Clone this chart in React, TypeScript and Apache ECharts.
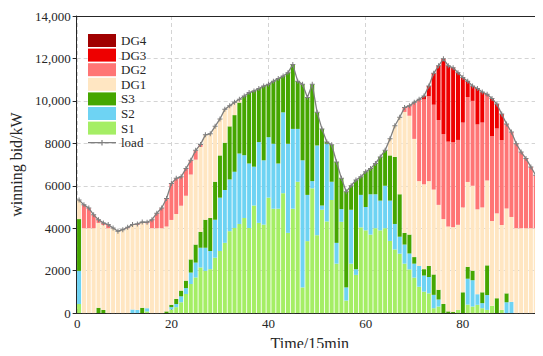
import React, { useEffect, useRef } from "react";
import * as echarts from "echarts";

const FONT = "'Liberation Serif', 'Times New Roman', serif";

const seriesNames = ["S1", "S2", "S3", "DG1", "DG2", "DG3", "DG4"];
const legendOrder = ["DG4", "DG3", "DG2", "DG1", "S3", "S2", "S1", "load"];

const slots = Array.from({ length: 96 }, (_, i) => String(i + 1));

const S1 = [
  430, 0, 0, 0, 0, 0, 0, 0, 0, 0,
  0, 0, 0, 0, 80, 0, 0, 0, 0, 170,
  280, 510, 900, 1370, 1680, 2150, 1990, 2070, 2610, 2925,
  3310, 3860, 4010, 4200, 4480, 4010, 5070, 4250, 4170, 5440,
  4920, 4920, 5650, 3780, 4920, 6190, 1210, 3390, 5880, 3670,
  4870, 4320, 5330, 2330, 4300, 590, 2330, 1800, 4040, 3900,
  3700, 4000, 3900, 4000, 3400, 3000, 2800, 2330, 2060, 1670,
  1240, 1010, 930, 230, 310, 0, 0, 0, 160, 0,
  400, 310, 390, 230, 150, 340, 0, 150, 0, 0,
  0, 0, 0, 0, 0, 0,
];

const S2 = [
  1560, 0, 0, 0, 0, 0, 0, 0, 0, 0,
  0, 170, 150, 0, 150, 0, 0, 0, 0, 110,
  150, 280, 280, 540, 700, 930, 1090, 855, 1790, 2515,
  2490, 2440, 2650, 3320, 2960, 3040, 1830, 3810, 3030, 2850,
  3060, 2130, 3810, 4200, 3760, 2490, 5990, 2180, 340, 4230,
  200, 3660, 860, 980, 600, 620, 2540, 270, 1530, 1100,
  1900, 1600, 1400, 2000, 1900, 1200, 800, 900, 750, 660,
  980, 760, 770, 630, 330, 0, 0, 0, 0, 0,
  1220, 1240, 500, 240, 700, 0, 0, 0, 510, 530,
  0, 0, 0, 0, 0, 0,
];

const S3 = [
  2440, 0, 0, 0, 250, 150, 0, 0, 0, 0,
  0, 0, 0, 250, 0, 0, 0, 0, 80, 110,
  240, 270, 350, 620, 850, 750, 1320, 1555, 1790, 1990,
  2230, 2500, 2670, 2400, 2790, 3340, 3570, 2520, 3500, 2490,
  2950, 4000, 1710, 3350, 3030, 2250, 3580, 4590, 4560, 1560,
  3610, 80, 1740, 3810, 1450, 4510, 1130, 4200, 850, 1660,
  1210, 1450, 2060, 1670, 2130, 3160, 2000, 550, 890, 310,
  0, 300, 520, 960, 460, 430, 80, 50, 0, 980,
  560, 450, 0, 510, 1400, 0, 700, 0, 420, 0,
  0, 0, 0, 0, 0, 0,
];

const DG1 = [
  900, 4000, 4000, 4000, 4000, 4000, 4000, 4000, 3860, 3930,
  4000, 4000, 4000, 4000, 4000, 4000, 4000, 4000, 4000, 4000,
  4000, 4000, 4000, 4000, 4000, 4000, 4000, 3970, 2610, 1720,
  1570, 970, 600, 160, 0, 0, 0, 0, 0, 0,
  0, 0, 0, 0, 0, 0, 0, 0, 0, 0,
  0, 0, 0, 0, 0, 0, 0, 0, 0, 0,
  0, 0, 0, 0, 780, 1470, 3630, 5700, 5600, 5570,
  4000, 4000, 4000, 4000, 4000, 4000, 4000, 4000, 4000, 4000,
  4000, 4000, 4000, 4000, 4000, 4000, 4000, 4000, 4000, 4000,
  4000, 4000, 4000, 4000, 4000, 4000,
];

const DG2 = [
  0, 1100, 950, 630, 150, 100, 170, 10, 0, 0,
  40, 0, 50, 40, 50, 400, 710, 950, 1320, 1720,
  1680, 1360, 1280, 670, 440, 120, 0, 0, 0, 0,
  0, 0, 0, 0, 0, 0, 0, 0, 0, 0,
  0, 0, 0, 0, 0, 0, 0, 0, 0, 0,
  0, 0, 0, 0, 0, 0, 0, 0, 0, 0,
  0, 0, 0, 0, 0, 0, 0, 210, 470, 1720,
  3860, 4000, 4000, 4000, 4000, 4000, 4000, 4000, 4000, 4000,
  4000, 4000, 4000, 4000, 4000, 4000, 4000, 4000, 3980, 4000,
  3980, 3590, 3280, 2890, 2500, 2300,
];

const DG3 = [
  0, 0, 0, 0, 0, 0, 0, 0, 0, 0,
  0, 0, 0, 0, 0, 0, 0, 0, 0, 0,
  0, 0, 0, 0, 0, 0, 0, 0, 0, 0,
  0, 0, 0, 0, 0, 0, 0, 0, 0, 0,
  0, 0, 0, 0, 0, 0, 0, 0, 0, 0,
  0, 0, 0, 0, 0, 0, 0, 0, 0, 0,
  0, 0, 0, 0, 0, 0, 0, 0, 0, 0,
  0, 160, 480, 1480, 2550, 3550, 3570, 3510, 3170, 2120,
  750, 700, 1690, 1440, 60, 1770, 1150, 1230, 0, 0,
  0, 0, 0, 0, 0, 0,
];

const DG4 = new Array(96).fill(0);

const load = [
  5330, 5100, 4950, 4630, 4400, 4250, 4170, 4010, 3860, 3930,
  4040, 4170, 4200, 4290, 4280, 4400, 4710, 4950, 5400, 6110,
  6350, 6420, 6810, 7200, 7670, 7950, 8400, 8450, 8800, 9150,
  9600, 9770, 9930, 10080, 10230, 10390, 10470, 10580, 10700, 10780,
  10930, 11050, 11170, 11330, 11710, 10930, 10780, 10160, 10780, 9460,
  8680, 8060, 7930, 7120, 6350, 5720, 6000, 6270, 6420, 6660,
  6810, 7050, 7360, 7670, 8210, 8830, 9230, 9690, 9770, 9930,
  10080, 10230, 10700, 11300, 11650, 11980, 11650, 11560, 11330, 11100,
  10930, 10700, 10580, 10420, 10310, 10110, 9850, 9380, 8910, 8530,
  7980, 7590, 7280, 6890, 6500, 6300,
];

const xTickValues = [0.6, 20, 40, 60, 80];
const xTickLabels = ["0", "20", "40", "60", "80"];

const colors: Record<string, string> = {
  S1: "#A5EE65",
  S2: "#6ED3F3",
  S3: "#45A600",
  DG1: "#FFE6C2",
  DG2: "#FF7575",
  DG3: "#EE0000",
  DG4: "#A00000",
};

const seriesData: Record<string, number[]> = { S1, S2, S3, DG1, DG2, DG3, DG4 };

function fmtY(v: number): string {
  if (v >= 10000) {
    const s = String(v);
    return s.slice(0, s.length - 3) + "," + s.slice(s.length - 3);
  }
  return String(v);
}

const AXIS_COLOR = "#262626";
const GRID_LINE = { show: true, lineStyle: { type: [4, 3], color: "#d4d4d4", width: 1 } };

export default function App() {
  const ref = useRef<HTMLDivElement>(null);
  useEffect(() => {
    if (!ref.current) return;
    const chart = echarts.init(ref.current, undefined, { renderer: "svg" });
    const barSeries = seriesNames.map((n) => ({
      name: n,
      type: "bar",
      stack: "total",
      barWidth: 4,
      xAxisIndex: 0,
      itemStyle: { color: colors[n] },
      data: seriesData[n],
      z: 2,
    }));
    const plusPath = "path://M4,0h2v10h-2z M0,4h10v2h-10z";
    const loadIcon = "path://M0,6h28v1.2h-28z M13.4,3.8h1.2v5.6h-1.2z";
    chart.setOption({
      animation: false,
      backgroundColor: "#ffffff",
      textStyle: { fontFamily: FONT },
      grid: {
        left: 69,
        right: -6,
        top: 16,
        bottom: 40,
      },
      legend: {
        orient: "vertical",
        left: 83,
        top: 29,
        itemWidth: 28,
        itemHeight: 13,
        itemGap: 1.6,
        textStyle: { fontFamily: FONT, fontSize: 13, color: AXIS_COLOR },
        data: legendOrder.map((n) =>
          n === "load" ? { name: n, icon: loadIcon } : { name: n, icon: "rect" }
        ),
      },
      xAxis: [
        {
          type: "category",
          data: slots,
          boundaryGap: true,
          show: false,
        },
        {
          type: "value",
          position: "bottom",
          min: 0.5,
          max: 96.5,
          name: "Time/15min",
          nameLocation: "middle",
          nameGap: 19,
          nameTextStyle: { fontFamily: FONT, fontSize: 16, color: AXIS_COLOR },
          axisLine: { show: true, lineStyle: { color: AXIS_COLOR, width: 1 } },
          axisTick: {
            show: true,
            inside: true,
            length: 4,
            customValues: xTickValues,
            lineStyle: { color: AXIS_COLOR },
          },
          axisLabel: {
            customValues: xTickValues,
            formatter: (v: number) => xTickLabels[xTickValues.indexOf(v)] ?? "",
            fontFamily: FONT,
            fontSize: 13,
            color: AXIS_COLOR,
            margin: 4,
          },
          splitLine: GRID_LINE,
        },
        {
          type: "value",
          position: "top",
          min: 0.5,
          max: 96.5,
          axisLine: { show: true, onZero: false, lineStyle: { color: AXIS_COLOR, width: 1 } },
          axisTick: { show: false },
          axisLabel: { show: false },
          splitLine: { show: false },
        },
      ],
      yAxis: {
        type: "value",
        min: 0,
        max: 14000,
        interval: 2000,
        name: "winning bid/kW",
        nameLocation: "middle",
        nameGap: 35,
        nameTextStyle: { fontFamily: FONT, fontSize: 16, color: AXIS_COLOR },
        axisLine: { show: true, lineStyle: { color: AXIS_COLOR, width: 1 } },
        axisTick: { show: true, inside: false, length: 4, lineStyle: { color: AXIS_COLOR } },
        axisLabel: {
          formatter: fmtY,
          fontFamily: FONT,
          fontSize: 13,
          color: AXIS_COLOR,
          margin: 6,
        },
        splitLine: GRID_LINE,
      },
      series: [
        ...barSeries,
        {
          name: "load",
          type: "line",
          xAxisIndex: 0,
          data: load,
          symbol: plusPath,
          symbolSize: 5,
          showAllSymbol: true,
          lineStyle: { color: "#7f7f7f", width: 1.3 },
          itemStyle: { color: "#7f7f7f" },
          z: 5,
        },
      ],
    });
    return () => chart.dispose();
  }, []);
  return <div ref={ref} style={{ width: 543, height: 356, margin: -8 }} />;
}
